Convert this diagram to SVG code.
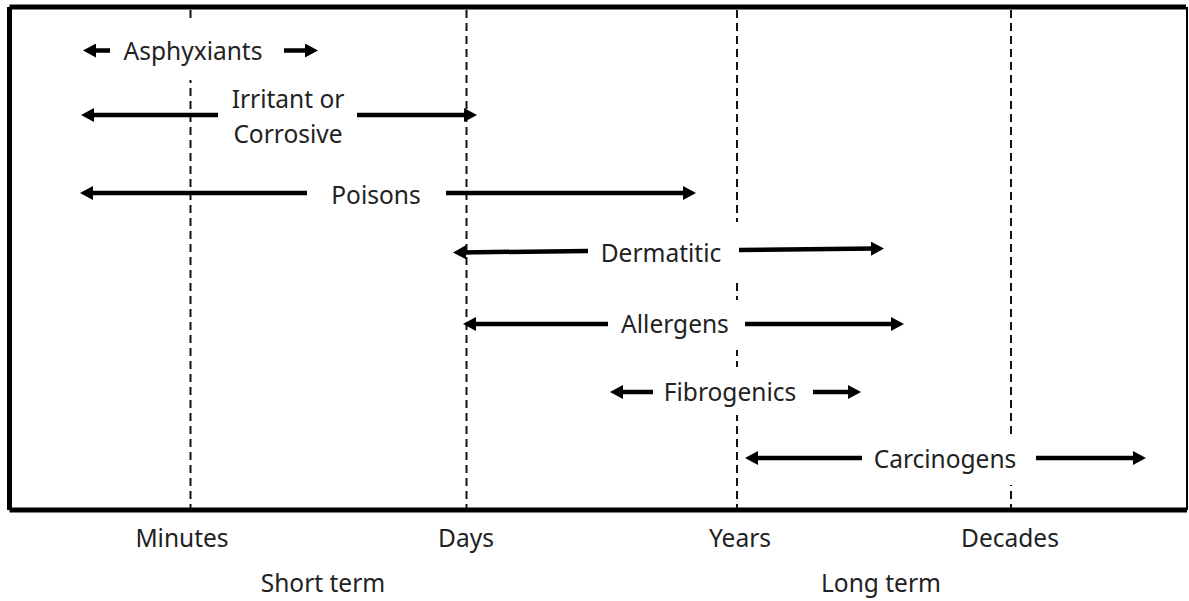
<svg xmlns="http://www.w3.org/2000/svg" width="1189" height="601" viewBox="0 0 1189 601">
  <style>
    .grid { stroke: #111; stroke-width: 2; stroke-dasharray: 8 5; fill: none; }
    .frame { stroke: #000; fill: none; }
    .mask { fill: #fff; stroke: none; }
    .lbl { font-family: "Noto Sans", "Open Sans", sans-serif; font-size: 24.5px; fill: #222; text-anchor: middle; }
    .arr { stroke: #000; stroke-width: 4.5; fill: none; marker-end: url(#head); }
  </style>
  <defs>
    <marker id="head" markerUnits="userSpaceOnUse" markerWidth="14" markerHeight="14" refX="5" refY="7" orient="auto" viewBox="0 0 14 14">
      <path d="M0,0 L13,7 L0,14 z" fill="#000"/>
    </marker>
  </defs>
  <rect x="0" y="0" width="1189" height="601" fill="#fff"/>

  <g id="frame">
    <path class="frame" d="M9.5,7 H1186 M9.5,7 V510 M9.5,510 H1187" stroke-width="5"/>
    <path class="frame" d="M1187,7 V510" stroke-width="2"/>
  </g>

  <g id="gridlines">
    <line class="grid" x1="190.5" y1="10" x2="190.5" y2="508"/>
    <line class="grid" x1="466.5" y1="10" x2="466.5" y2="508"/>
    <line class="grid" x1="737" y1="10" x2="737" y2="508"/>
    <line class="grid" x1="1011" y1="10" x2="1011" y2="508"/>
  </g>

  <g id="node-asphyxiants">
    <rect class="mask" x="115" y="22" width="160" height="58"/>
    <text class="lbl" x="193" y="60">Asphyxiants</text>
  </g>
  <g id="node-irritant">
    <text class="lbl" x="288" y="108">Irritant or</text>
    <text class="lbl" x="288" y="143">Corrosive</text>
  </g>
  <g id="node-poisons">
    <text class="lbl" x="376" y="204">Poisons</text>
  </g>
  <g id="node-dermatitic">
    <rect class="mask" x="592" y="222" width="148" height="58"/>
    <text class="lbl" x="661" y="262">Dermatitic</text>
  </g>
  <g id="node-allergens">
    <rect class="mask" x="612" y="300" width="130" height="50"/>
    <text class="lbl" x="675" y="333">Allergens</text>
  </g>
  <g id="node-fibrogenics">
    <rect class="mask" x="656" y="367" width="154" height="48"/>
    <text class="lbl" x="730" y="401">Fibrogenics</text>
  </g>
  <g id="node-carcinogens">
    <rect class="mask" x="865" y="435" width="165" height="50"/>
    <text class="lbl" x="945" y="468">Carcinogens</text>
  </g>

  <g id="axis-labels">
    <text class="lbl" x="182" y="547">Minutes</text>
    <text class="lbl" x="466" y="547">Days</text>
    <text class="lbl" x="740" y="547">Years</text>
    <text class="lbl" x="1010" y="547">Decades</text>
    <text class="lbl" x="323" y="592">Short term</text>
    <text class="lbl" x="881" y="592">Long term</text>
  </g>

  <g id="connectors">
    <line class="arr" x1="110" y1="50.5" x2="91" y2="50.5"/>
    <line class="arr" x1="284" y1="50.5" x2="310" y2="50.5"/>
    <line class="arr" x1="218" y1="115" x2="89" y2="115"/>
    <line class="arr" x1="357" y1="115" x2="469" y2="115"/>
    <line class="arr" x1="307" y1="193" x2="88" y2="193"/>
    <line class="arr" x1="446" y1="193" x2="688" y2="193"/>
    <line class="arr" x1="588" y1="251" x2="461" y2="252.4"/>
    <line class="arr" x1="739" y1="250" x2="876" y2="248.6"/>
    <line class="arr" x1="608" y1="324" x2="471" y2="324"/>
    <line class="arr" x1="745" y1="324" x2="896" y2="324"/>
    <line class="arr" x1="653" y1="392" x2="618" y2="392"/>
    <line class="arr" x1="813" y1="392" x2="853" y2="392"/>
    <line class="arr" x1="862" y1="458" x2="753" y2="458"/>
    <line class="arr" x1="1036" y1="458" x2="1138" y2="458"/>
  </g>
</svg>
